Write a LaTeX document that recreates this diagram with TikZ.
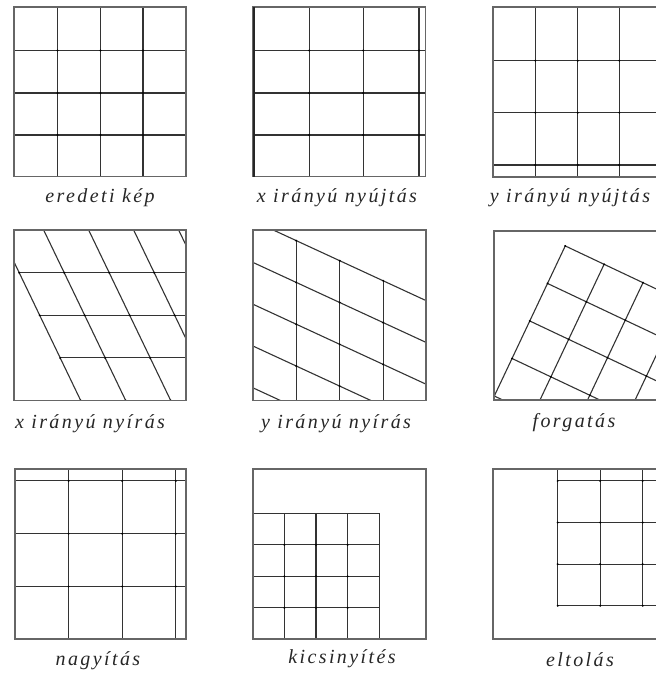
\documentclass[tikz,border=0pt]{standalone}
\usepackage{fontspec}
\newfontfamily\labfont[LetterSpace=12]{Liberation Serif Italic}
\begin{document}
\begin{tikzpicture}[x=1pt,y=-1pt,
  pframe/.style={draw=black!60,line width=1.8pt},
  gl/.style={draw=black!80,line width=1.1pt},
  jd/.style={fill=black},
  lab/.style={font=\labfont\fontsize{20}{24}\selectfont,text=black!85,anchor=base,inner sep=0pt}]
\useasboundingbox (0,0) rectangle (656,675);
\clip (0,0) rectangle (656,675);
% ---------- panel 1: eredeti kep
\foreach \x in {57.5,100.5,143} \draw[gl] (\x,7) -- (\x,176.5);
\foreach \y in {50.5,93,135} \draw[gl] (14,\y) -- (186,\y);
\foreach \x in {57.5,100.5,143} \foreach \y in {50.5,93,135} \fill[jd] (\x,\y) circle (1.1pt);
\draw[pframe] (14,7) rectangle (186,176.5);
\node[lab] (l1) at (100,202) {eredeti kép};
% ---------- panel 2: x iranyu nyujtas
\foreach \x in {254.8,309.3,363.3,419} \draw[gl] (\x,7) -- (\x,176.5);
\foreach \y in {50.5,93,135} \draw[gl] (253.3,\y) -- (425.5,\y);
\foreach \x in {309.3,363.3,419} \foreach \y in {50.5,93,135} \fill[jd] (\x,\y) circle (1.1pt);
\draw[pframe] (253.3,7) rectangle (425.5,176.5);
\draw[black!85,line width=1.8pt] (254.2,7) -- (254.2,176.5);
\node[lab] (l2) at (337,202) {x irányú nyújtás};
% ---------- panel 3: y iranyu nyujtas
\foreach \x in {535.3,577.7,619.3,661} \draw[gl] (\x,7) -- (\x,176.7);
\foreach \y in {60.7,112.7,165} \draw[gl] (493.3,\y) -- (665,\y);
\foreach \x in {535.3,577.7,619.3} \foreach \y in {60.7,112.7,165} \fill[jd] (\x,\y) circle (1.1pt);
\draw[pframe] (493.3,7) rectangle (665,176.7);
\node[lab] (l3) at (570,202) {y irányú nyújtás};
% ---------- panel 4: x iranyu nyiras
\begin{scope}
\clip (14,230) rectangle (186,400.5);
\begin{scope}[shift={(80.7,400.5)},x={(45pt,0pt)},y={(-20.5pt,42.6pt)}]
\foreach \i in {0,...,4} {\draw[gl] (\i,0) -- (\i,4); \draw[gl] (0,\i) -- (4,\i);}
\foreach \i in {0,...,4} \foreach \j in {0,...,4} \fill[jd] (\i,\j) circle (1.1pt);
\end{scope}
\end{scope}
\draw[pframe] (14,230) rectangle (186,400.5);
\node[lab] (l4) at (90,428) {x irányú nyírás};
% ---------- panel 5: y iranyu nyiras
\begin{scope}
\clip (252.7,230) rectangle (425.7,400.5);
\begin{scope}[shift={(252.7,220.5)},x={(43.5pt,-20.1pt)},y={(0pt,-41.8pt)}]
\foreach \i in {0,...,4} {\draw[gl] (\i,0) -- (\i,4); \draw[gl] (0,\i) -- (4,\i);}
\foreach \i in {0,...,4} \foreach \j in {0,...,4} \fill[jd] (\i,\j) circle (1.1pt);
\end{scope}
\end{scope}
\draw[pframe] (252.7,230) rectangle (425.7,400.5);
\node[lab] (l5) at (336,428) {y irányú nyírás};
% ---------- panel 6: forgatas
\begin{scope}
\clip (493.7,230.7) rectangle (665,400);
\begin{scope}[shift={(494.3,396)},rotate=-25.3,x={(43pt,0pt)},y={(0pt,41.5pt)}]
\foreach \i in {0,...,4} {\draw[gl] (\i,0) -- (\i,4); \draw[gl] (0,\i) -- (4,\i);}
\foreach \i in {0,...,4} \foreach \j in {0,...,4} \fill[jd] (\i,\j) circle (1.1pt);
\end{scope}
\end{scope}
\draw[pframe] (493.7,230.7) rectangle (665,400);
\node[lab] (l6) at (574,427) {forgatás};
% ---------- panel 7: nagyitas
\begin{scope}
\clip (15,469.3) rectangle (185.7,639.3);
\begin{scope}[shift={(15,639.3)},x={(53.6pt,0pt)},y={(0pt,52.8pt)}]
\foreach \i in {0,...,4} {\draw[gl] (\i,0) -- (\i,4); \draw[gl] (0,\i) -- (4,\i);}
\foreach \i in {0,...,4} \foreach \j in {0,...,4} \fill[jd] (\i,\j) circle (1.1pt);
\end{scope}
\end{scope}
\draw[pframe] (15,469.3) rectangle (185.7,639.3);
\node[lab] (l7) at (98,665) {nagyítás};
% ---------- panel 8: kicsinyites
\begin{scope}[shift={(252.7,639.3)},x={(31.65pt,0pt)},y={(0pt,31.5pt)}]
\foreach \i in {0,...,4} {\draw[gl] (\i,0) -- (\i,4); \draw[gl] (0,\i) -- (4,\i);}
\foreach \i in {1,...,3} \foreach \j in {1,...,3} \fill[jd] (\i,\j) circle (1.1pt);
\end{scope}
\draw[pframe] (252.7,469.3) rectangle (425.7,639.3);
\node[lab] (l8) at (342,663) {kicsinyítés};
% ---------- panel 9: eltolas
\begin{scope}
\clip (493.3,469.3) rectangle (665,639.3);
\begin{scope}[shift={(557.7,605.7)},x={(42.5pt,0pt)},y={(0pt,41.6pt)}]
\foreach \i in {0,...,4} {\draw[gl] (\i,0) -- (\i,4); \draw[gl] (0,\i) -- (4,\i);}
\foreach \i in {0,...,4} \foreach \j in {0,...,4} \fill[jd] (\i,\j) circle (1.1pt);
\end{scope}
\end{scope}
\draw[pframe] (493.3,469.3) rectangle (665,639.3);
\node[lab] (l9) at (580,666) {eltolás};
\end{tikzpicture}
\end{document}
